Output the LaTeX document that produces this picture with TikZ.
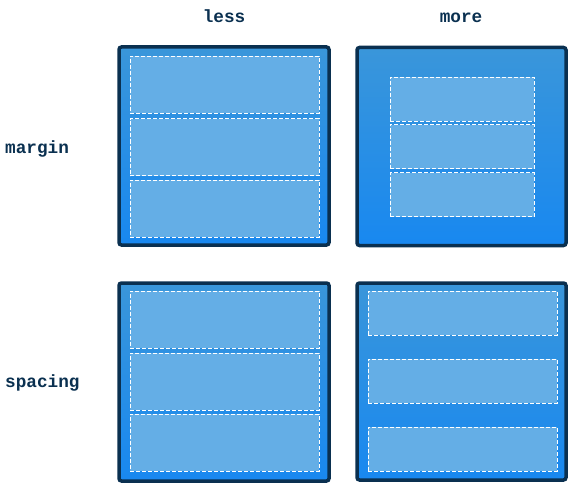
\documentclass[tikz,border=0pt]{standalone}
\usepackage{fontspec}
\setmonofont{Liberation Mono}
\usepackage{tikz}
\usetikzlibrary{positioning}
\definecolor{frame-color}{RGB}{10,48,80}
\definecolor{fill-top}{RGB}{58,150,218}
\definecolor{fill-bottom}{RGB}{24,136,240}
\definecolor{item-color}{RGB}{100,174,230}
\tikzset{
    panel/.style = {draw=frame-color, line width=3.5pt, rounded corners=2.5pt,
        top color=fill-top, bottom color=fill-bottom,
        minimum width=210pt, minimum height=198pt, inner sep=0pt},
    item/.style = {fill=item-color, draw=white, dash pattern=on 4pt off 2pt,
        line width=0.8pt, inner sep=0pt},
    wide/.style = {item, minimum width=189pt, minimum height=57pt},
    slim/.style = {item, minimum width=189pt, minimum height=44pt},
    narrow/.style = {item, minimum width=144pt, minimum height=44pt},
    caption/.style = {text=frame-color, inner sep=0pt,
        font=\fontsize{17.7}{20}\selectfont\ttfamily\bfseries}
}

\begin{document}
\begin{tikzpicture}[x=1pt,y=-1pt]
\useasboundingbox (0,0) rectangle (569,484);
% column and row captions
\node[caption, anchor=base] (less) at (224,23) {less};
\node[caption, anchor=base] (more) at (461,23) {more};
\node[caption, anchor=base west] (margin) at (5,153) {margin};
\node[caption, anchor=base west] (spacing) at (5,387) {spacing};

% margin
\node[panel] (ml) at (224,146) {};
\foreach \y [count=\i] in {84.5,147,208.5}
    \node[wide] (ml-\i) at (224.5,\y) {};
\node[panel, minimum width=209pt] (mm) at (461.5,146.5) {};
\foreach \y [count=\i] in {99,146.5,194.5}
    \node[narrow] (mm-\i) at (462,\y) {};

% spacing
\node[panel] (sl) at (224,382) {};
\foreach \y [count=\i] in {319.5,381.5,442.5}
    \node[wide] (sl-\i) at (224.5,\y) {};
\node[panel, minimum width=209pt, minimum height=197pt] (sm) at (461.5,381.5) {};
\foreach \y [count=\i] in {313,381,449}
    \node[slim] (sm-\i) at (462.5,\y) {};
\end{tikzpicture}
\end{document}
